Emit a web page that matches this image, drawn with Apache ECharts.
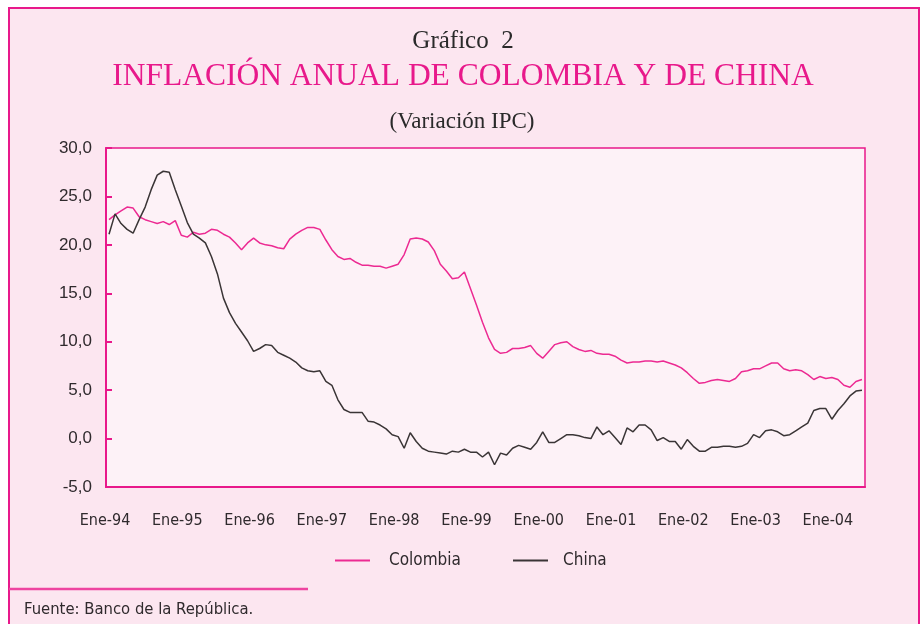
<!DOCTYPE html>
<html>
<head>
<meta charset="utf-8">
<script src="https://cdn.jsdelivr.net/npm/echarts@6/dist/echarts.min.js"></script>
<style>
html,body{margin:0;padding:0;background:#ffffff;}
#chart{width:923px;height:624px;}
</style>
</head>
<body>
<div id="chart"></div>
<script>
// Month abbreviations and years for category labels (Ene-94 ... Jun-04)
const monthNames = ['Ene','Feb','Mar','Abr','May','Jun','Jul','Ago','Sep','Oct','Nov','Dic'];
const years = ['94','95','96','97','98','99','00','01','02','03','04'];
const categories = [];
years.forEach(y => monthNames.forEach(m => categories.push(m + '-' + y)));
categories.length = 126;

const yTicks = [-5, 0, 5, 10, 15, 20, 25, 30];

const colombia = [
 22.6, 23.1, 23.5, 23.9, 23.8, 22.9, 22.6, 22.4, 22.2, 22.4, 22.1, 22.5,
 21.0, 20.8, 21.3, 21.1, 21.2, 21.6, 21.5, 21.1, 20.8, 20.2, 19.5, 20.2,
 20.7, 20.2, 20.0, 19.9, 19.7, 19.6, 20.6, 21.1, 21.5, 21.8, 21.8, 21.6,
 20.5, 19.5, 18.8, 18.5, 18.6, 18.2, 17.9, 17.9, 17.8, 17.8, 17.6, 17.8,
 18.0, 19.0, 20.6, 20.7, 20.6, 20.3, 19.4, 18.0, 17.3, 16.5, 16.6, 17.2,
 15.5, 13.8, 12.0, 10.4, 9.2, 8.8, 8.9, 9.3, 9.3, 9.4, 9.6, 8.8,
 8.3, 9.0, 9.7, 9.9, 10.0, 9.5, 9.2, 9.0, 9.1, 8.8, 8.7, 8.7,
 8.5, 8.1, 7.8, 7.9, 7.9, 8.0, 8.0, 7.9, 8.0, 7.8, 7.6, 7.3,
 6.8, 6.2, 5.7, 5.8, 6.0, 6.1, 6.0, 5.9, 6.2, 6.9, 7.0, 7.2,
 7.2, 7.5, 7.8, 7.8, 7.2, 7.0, 7.1, 7.0, 6.6, 6.1, 6.4, 6.2,
 6.3, 6.1, 5.5, 5.3, 5.9, 6.1
];

const china = [
 21.1, 23.2, 22.2, 21.6, 21.2, 22.6, 23.9, 25.7, 27.2, 27.6, 27.5, 25.7,
 24.0, 22.3, 21.1, 20.7, 20.2, 18.8, 17.0, 14.5, 13.0, 11.9, 11.0, 10.1,
 9.0, 9.3, 9.7, 9.6, 8.9, 8.6, 8.3, 7.9, 7.3, 7.0, 6.9, 7.0,
 5.9, 5.5, 4.0, 3.0, 2.7, 2.7, 2.7, 1.8, 1.7, 1.4, 1.0, 0.4,
 0.2, -1.0, 0.6, -0.3, -1.0, -1.3, -1.4, -1.5, -1.6, -1.3, -1.4, -1.1,
 -1.4, -1.4, -1.9, -1.4, -2.7, -1.5, -1.7, -1.0, -0.7, -0.9, -1.1, -0.4,
 0.7, -0.4, -0.4, 0.0, 0.4, 0.4, 0.3, 0.1, 0.0, 1.2, 0.4, 0.8,
 0.1, -0.6, 1.1, 0.7, 1.4, 1.4, 0.9, -0.2, 0.1, -0.3, -0.3, -1.1,
 -0.1, -0.8, -1.3, -1.3, -0.9, -0.9, -0.8, -0.8, -0.9, -0.8, -0.5, 0.4,
 0.1, 0.8, 0.9, 0.7, 0.3, 0.4, 0.8, 1.2, 1.6, 2.9, 3.1, 3.1,
 2.0, 2.9, 3.6, 4.4, 4.9, 5.0
];

const MAG = '#E8198B';
const PINK_LINE = '#EC2A92';
const TEXT = '#2f2a2d';
const NARROW = '"DejaVu Sans Condensed", "Liberation Sans Narrow", sans-serif';
const SERIF = '"Liberation Serif", "Times New Roman", serif';

const chart = echarts.init(document.getElementById('chart'), null, {renderer: 'canvas'});
chart.setOption({
  animation: false,
  backgroundColor: '#ffffff',
  graphic: [
    {type: 'rect', z: -10, shape: {x: 9, y: 8, width: 910, height: 640},
     style: {fill: '#FCE6F0', stroke: MAG, lineWidth: 2}},
    {type: 'text', x: 463, y: 41, style: {text: 'Gráfico  2', fill: '#2a2a2a', font: '25px ' + SERIF, align: 'center', verticalAlign: 'middle'}},
    {type: 'text', x: 463, y: 77, style: {text: 'INFLACIÓN ANUAL DE COLOMBIA Y DE CHINA', fill: MAG, font: '31.5px ' + SERIF, align: 'center', verticalAlign: 'middle'}},
    {type: 'text', x: 462, y: 122, style: {text: '(Variación IPC)', fill: '#2a2a2a', font: '23px ' + SERIF, align: 'center', verticalAlign: 'middle'}},
    {type: 'line', shape: {x1: 9, y1: 589, x2: 308, y2: 589}, style: {stroke: '#EE44A0', lineWidth: 2.5}},
    {type: 'text', x: 24, y: 610, style: {text: 'Fuente: Banco de la República.', fill: TEXT, font: '16.5px ' + NARROW, align: 'left', verticalAlign: 'middle'}}
  ],
  grid: {left: 106, right: 58, top: 148, bottom: 137, show: true, backgroundColor: '#FDF2F7', borderColor: MAG, borderWidth: 1.5},
  legend: [
    {data: ['Colombia'], left: 335, top: 552, padding: 0, icon: 'rect', itemWidth: 35, itemHeight: 2,
     textStyle: {fontFamily: NARROW, fontSize: 17, color: TEXT, padding: [0, 0, 0, 14]}},
    {data: ['China'], left: 513, top: 552, padding: 0, icon: 'rect', itemWidth: 35, itemHeight: 2,
     textStyle: {fontFamily: NARROW, fontSize: 17, color: TEXT, padding: [0, 0, 0, 10]}}
  ],
  xAxis: {
    type: 'category', data: categories, boundaryGap: true,
    axisLine: {onZero: false, lineStyle: {color: MAG, width: 2}},
    axisTick: {inside: true, length: 7, interval: 11, lineStyle: {color: MAG, width: 2}},
    axisLabel: {interval: 11, margin: 26, fontFamily: NARROW, fontSize: 16, color: TEXT, padding: [0, 8, 0, 0]},
    splitLine: {show: false}
  },
  yAxis: {
    type: 'value', min: yTicks[0], max: yTicks[yTicks.length - 1], interval: 5,
    axisLine: {show: true, onZero: false, lineStyle: {color: MAG, width: 2}},
    axisTick: {show: true, inside: true, length: 6, lineStyle: {color: MAG, width: 2}},
    axisLabel: {margin: 14, fontFamily: '"Liberation Sans", Arial, sans-serif', fontSize: 17, color: TEXT,
      formatter: v => v.toFixed(1).replace('.', ',')},
    splitLine: {show: false}
  },
  series: [
    {name: 'Colombia', type: 'line', data: colombia, symbol: 'none', color: PINK_LINE,
     lineStyle: {color: PINK_LINE, width: 1.5}},
    {name: 'China', type: 'line', data: china, symbol: 'none', color: '#3a3536',
     lineStyle: {color: '#3a3536', width: 1.5}}
  ]
});
</script>
</body>
</html>
